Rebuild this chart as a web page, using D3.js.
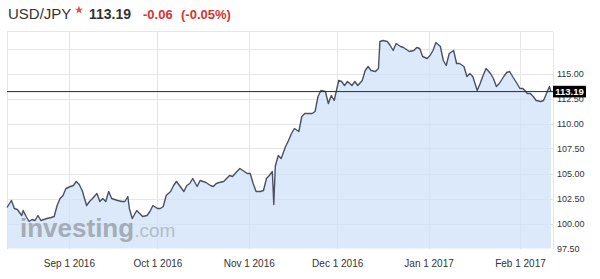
<!DOCTYPE html>
<meta charset="utf-8">
<style>
body { margin: 0; background: #fff; }
svg { font-family: "Liberation Sans", Arial, sans-serif; }
.grid line { stroke: #e6e6e6; shape-rendering: crispEdges; }
.axis text { fill: #333; }
</style>
<body>
<script src="https://cdn.jsdelivr.net/npm/d3@7"></script>
<script>

// quote header
var symbol = "USD/JPY",
    lastPrice = 113.19,
    change = "-0.06",
    changePct = "(-0.05%)";

// price series (date, close)
var dates = [
  "2016-08-11T00","2016-08-12T12","2016-08-13T12","2016-08-14T12","2016-08-15T00","2016-08-16T00",
  "2016-08-16T12","2016-08-17T12","2016-08-18T12","2016-08-19T12","2016-08-20T12","2016-08-21T12",
  "2016-08-22T12","2016-08-24T12","2016-08-26T00","2016-08-27T00","2016-08-28T00","2016-08-29T00",
  "2016-08-30T00","2016-08-31T00","2016-09-01T12","2016-09-02T12","2016-09-03T12","2016-09-04T12",
  "2016-09-05T12","2016-09-06T00","2016-09-07T00","2016-09-08T00","2016-09-09T00","2016-09-10T12",
  "2016-09-11T12","2016-09-12T12","2016-09-13T12","2016-09-14T12","2016-09-15T12","2016-09-16T12",
  "2016-09-17T12","2016-09-19T00","2016-09-20T00","2016-09-21T00","2016-09-21T12","2016-09-22T12",
  "2016-09-24T00","2016-09-25T00","2016-09-26T00","2016-09-27T12","2016-09-28T12","2016-09-29T12",
  "2016-10-01T00","2016-10-02T00","2016-10-03T00","2016-10-04T00","2016-10-05T12","2016-10-06T12",
  "2016-10-07T12","2016-10-08T12","2016-10-10T00","2016-10-11T00","2016-10-12T00","2016-10-13T00",
  "2016-10-14T12","2016-10-15T12","2016-10-16T12","2016-10-17T12","2016-10-19T00","2016-10-20T00",
  "2016-10-21T00","2016-10-22T00","2016-10-23T12","2016-10-24T12","2016-10-25T12","2016-10-26T12",
  "2016-10-28T00","2016-10-29T00","2016-10-30T00","2016-10-31T12","2016-11-01T12","2016-11-02T12",
  "2016-11-03T12","2016-11-05T00","2016-11-06T00","2016-11-07T00","2016-11-08T00","2016-11-09T00",
  "2016-11-09T12","2016-11-10T00","2016-11-11T00","2016-11-12T00","2016-11-13T12","2016-11-14T12",
  "2016-11-15T12","2016-11-16T12","2016-11-18T00","2016-11-19T00","2016-11-20T00","2016-11-21T00",
  "2016-11-22T12","2016-11-23T12","2016-11-24T12","2016-11-25T12","2016-11-27T00","2016-11-28T00",
  "2016-11-29T00","2016-11-30T00","2016-12-01T12","2016-12-02T12","2016-12-03T12","2016-12-04T12",
  "2016-12-06T00","2016-12-07T00","2016-12-08T00","2016-12-09T12","2016-12-10T12","2016-12-11T12",
  "2016-12-12T12","2016-12-14T00","2016-12-15T00","2016-12-15T12","2016-12-16T12","2016-12-18T00",
  "2016-12-19T00","2016-12-20T00","2016-12-21T00","2016-12-22T12","2016-12-23T12","2016-12-24T12",
  "2016-12-25T12","2016-12-27T00","2016-12-28T00","2016-12-29T00","2016-12-30T00","2016-12-31T12",
  "2017-01-01T12","2017-01-02T12","2017-01-03T12","2017-01-05T00","2017-01-06T00","2017-01-07T00",
  "2017-01-08T00","2017-01-09T12","2017-01-10T12","2017-01-11T12","2017-01-13T00","2017-01-14T00",
  "2017-01-15T00","2017-01-16T00","2017-01-17T12","2017-01-18T12","2017-01-19T12","2017-01-20T12",
  "2017-01-22T00","2017-01-23T00","2017-01-24T00","2017-01-25T00","2017-01-26T12","2017-01-27T12",
  "2017-01-28T12","2017-01-29T12","2017-01-31T00","2017-02-01T00","2017-02-02T00","2017-02-03T12",
  "2017-02-04T12","2017-02-05T12","2017-02-06T12","2017-02-08T00","2017-02-09T00","2017-02-10T00",
  "2017-02-11T00","2017-02-11T12"
];

var prices = [
  101.6,102.3,101.5,101.4,101.2,100.8,
  101.3,100.7,100.2,100.4,100.3,100.8,
  100.3,100.5,100.6,100.7,101.8,102.5,
  102.8,103.5,103.7,103.8,104.2,103.9,
  103.3,102.8,101.8,102.2,102.5,103.0,
  102.2,102.5,102.2,103.2,102.5,102.4,
  102.3,102.2,102.2,102.7,101.5,100.5,
  101.3,101.0,100.7,100.8,101.2,101.8,
  101.5,101.5,101.7,102.8,103.2,103.8,
  104.2,103.8,103.2,103.8,104.0,104.5,
  103.7,104.3,104.2,104.1,103.8,103.7,
  104.0,104.1,104.2,104.5,104.8,104.7,
  105.2,105.5,105.3,105.0,105.0,104.0,
  103.2,103.2,103.3,104.5,104.8,105.2,
  101.9,105.7,106.8,106.5,107.7,108.3,
  109.0,109.5,109.2,110.7,111.0,111.0,
  111.0,111.2,112.7,113.3,113.2,112.0,
  112.8,112.3,114.3,114.2,113.8,114.2,
  113.8,114.2,113.8,114.3,115.3,115.7,
  115.3,115.2,115.5,118.2,118.3,118.2,
  117.8,117.3,118.0,117.7,117.6,117.4,
  117.2,117.3,117.6,117.5,116.7,116.5,
  116.8,117.3,118.1,117.7,116.3,115.8,
  117.0,117.3,116.0,116.0,115.7,114.7,
  115.0,114.7,113.3,114.0,114.8,115.5,
  115.0,114.5,113.7,114.0,114.7,115.1,
  115.2,114.7,114.0,113.5,113.5,113.0,
  113.0,112.7,112.3,112.2,112.3,113.0,
  113.7,113.19
];

// axis ticks
var monthTicks = ["2016-09-01","2016-10-01","2016-11-01","2016-12-01","2017-01-01","2017-02-01"];
var gridValues = [100, 102.5, 105, 107.5, 110, 112.5, 115, 117.5];
var labelValues = [97.5, 100, 102.5, 105, 107.5, 110, 112.5, 115];

var width = 600, height = 279;
var plot = {left: 7, right: 553, top: 31.5, bottom: 248.5};

var parseTime = d3.timeParse("%Y-%m-%dT%H"),
    parseDay = d3.timeParse("%Y-%m-%d");

var data = dates.map(function(d, i) { return {date: parseTime(d), value: prices[i]}; });

var x = d3.scaleTime()
    .domain([new Date(2016, 7, 11), new Date(2017, 1, 12, 5)])
    .range([plot.left, plot.right]);
var y = d3.scaleLinear()
    .domain([97.5, 119.2])
    .range([plot.bottom, plot.top]);

var svg = d3.select("body").append("svg")
    .attr("width", width)
    .attr("height", height);

// gridlines
var grid = svg.append("g").attr("class", "grid");
grid.selectAll(".h").data(gridValues).enter().append("line")
    .attr("x1", plot.left).attr("x2", plot.right)
    .attr("y1", function(d) { return Math.round(y(d)) + 0.5; })
    .attr("y2", function(d) { return Math.round(y(d)) + 0.5; });
grid.selectAll(".v").data(monthTicks.map(parseDay)).enter().append("line")
    .attr("y1", plot.top).attr("y2", plot.bottom)
    .attr("x1", function(d) { return Math.round(x(d)) + 0.5; })
    .attr("x2", function(d) { return Math.round(x(d)) + 0.5; });
// frame (top, left, right)
grid.append("line").attr("x1", plot.left).attr("x2", plot.right).attr("y1", plot.top).attr("y2", plot.top);
grid.append("line").attr("x1", plot.left + 0.5).attr("x2", plot.left + 0.5).attr("y1", plot.top).attr("y2", plot.bottom);
grid.append("line").attr("x1", plot.right + 0.5).attr("x2", plot.right + 0.5).attr("y1", plot.top).attr("y2", plot.bottom);

// area under the price
var area = d3.area()
    .x(function(d) { return x(d.date); })
    .y0(plot.bottom)
    .y1(function(d) { return y(d.value); });

svg.append("path")
    .datum(data)
    .attr("d", area)
    .attr("fill", "#cfe2f8")
    .attr("fill-opacity", 0.75);

// watermark
var wm = svg.append("text")
    .attr("x", 20).attr("y", 237)
    .style("pointer-events", "none");
wm.append("tspan")
    .attr("font-size", "26px").attr("font-weight", "bold")
    .attr("fill", "#a4acb5")
    .text("investing");
wm.append("tspan")
    .attr("font-size", "19px")
    .attr("fill", "#b3bec9")
    .text(".com");

// price line
var line = d3.line()
    .x(function(d) { return x(d.date); })
    .y(function(d) { return y(d.value); });

svg.append("path")
    .datum(data)
    .attr("d", line)
    .attr("fill", "none")
    .attr("stroke", "#4a5262")
    .attr("stroke-width", 1.4)
    .attr("stroke-linejoin", "round");

// last price line
svg.append("line")
    .attr("x1", plot.left).attr("x2", plot.right)
    .attr("y1", y(lastPrice)).attr("y2", y(lastPrice))
    .attr("stroke", "#2b2b2b")
    .attr("stroke-width", 1);

// y axis (112.50 sits under the last-price tag, as in the original)
var yAxis = svg.append("g")
    .attr("class", "axis")
    .attr("transform", "translate(" + (plot.right + 1) + ",0)")
    .call(d3.axisRight(y).tickValues(labelValues).tickSize(0).tickPadding(3)
      .tickFormat(d3.format(".2f")));
yAxis.select(".domain").remove();
yAxis.selectAll("text").attr("font-size", "9px").attr("font-family", null);

// last price tag
svg.append("rect")
    .attr("x", plot.right).attr("y", y(lastPrice) - 5.8)
    .attr("width", 33).attr("height", 11.6)
    .attr("fill", "#000");
svg.append("text")
    .attr("x", plot.right + 16.5).attr("y", y(lastPrice))
    .attr("dy", "0.35em")
    .attr("text-anchor", "middle")
    .attr("font-size", "9.5px").attr("font-weight", "bold")
    .attr("fill", "#fff")
    .text(d3.format(".2f")(lastPrice));

// x axis
var xAxis = svg.append("g")
    .attr("class", "axis")
    .attr("transform", "translate(0," + plot.bottom + ")")
    .call(d3.axisBottom(x).tickValues(monthTicks.map(parseDay)).tickSize(0).tickPadding(11)
      .tickFormat(d3.timeFormat("%b %-d %Y")));
xAxis.select(".domain").remove();
xAxis.selectAll("text").attr("font-size", "10px").attr("font-family", null);

// header
var head = svg.append("g");
head.append("text")
    .attr("x", 8).attr("y", 19)
    .attr("font-size", "15px").attr("fill", "#333")
    .text(symbol);
head.append("path")
    .attr("d", d3.symbol().type(d3.symbolStar).size(22)())
    .attr("transform", "translate(79,10)")
    .attr("fill", "#e0524f");
head.append("text")
    .attr("x", 89).attr("y", 19)
    .attr("font-size", "14px").attr("font-weight", "bold").attr("fill", "#333")
    .text(d3.format(".2f")(lastPrice));
head.append("text")
    .attr("x", 143).attr("y", 19)
    .attr("font-size", "13px").attr("font-weight", "bold").attr("fill", "#d9322f")
    .text(change);
head.append("text")
    .attr("x", 181).attr("y", 19)
    .attr("font-size", "13px").attr("font-weight", "bold").attr("fill", "#d9322f")
    .text(changePct);

</script>
</body>
